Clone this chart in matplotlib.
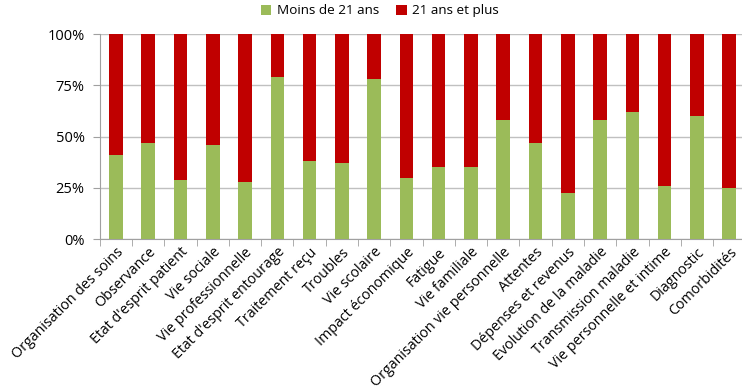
import matplotlib.pyplot as plt
import numpy as np

# categories and shares (in %)
categories = ["Organisation des soins", "Observance", "Etat d'esprit patient",
              "Vie sociale", "Vie professionnelle", "Etat d'esprit entourage",
              "Traitement reçu", "Troubles", "Vie scolaire", "Impact économique",
              "Fatigue", "Vie familiale", "Organisation vie personnelle",
              "Attentes", "Dépenses et revenus", "Evolution de la maladie",
              "Transmission maladie", "Vie personnelle et intime", "Diagnostic",
              "Comorbidités"]
moins_21 = [41, 47, 29, 46, 28, 79, 38, 37, 78, 30,
            35, 35, 58, 47, 22.5, 58, 62, 26, 60, 25]
plus_21 = [100 - v for v in moins_21]

plt.rcParams['font.family'] = ['Open Sans', 'DejaVu Sans']

fig = plt.figure(figsize=(7.42, 3.87), dpi=100)
ax = fig.add_axes([0.1345, 0.382, 0.870, 0.530])

x = np.arange(len(categories))
ax.bar(x, moins_21, width=0.42, color="#9bbb59", label="Moins de 21 ans", zorder=3)
ax.bar(x, plus_21, width=0.42, bottom=moins_21, color="#c00000",
       label="21 ans et plus", zorder=3)

ax.set_xlim(-0.5, len(categories) - 0.5)
ax.set_ylim(0, 100)
ax.set_yticks([0, 25, 50, 75, 100])
ax.set_yticklabels(["0%", "25%", "50%", "75%", "100%"], fontsize=10.5)
ax.yaxis.grid(True, color="#c0c0c0", linewidth=1, zorder=0)

# category labels, boundary tick marks like Excel
ax.set_xticks(x)
ax.set_xticklabels(categories, rotation=45, ha="right", rotation_mode="anchor",
                   fontsize=10.3)
ax.tick_params(axis="x", length=0, pad=4)
ax.set_xticks(np.arange(len(categories) + 1) - 0.5, minor=True)
ax.tick_params(axis="x", which="minor", length=5, color="#a0a0a0")
ax.tick_params(axis="y", length=5, color="#a0a0a0", pad=6)

for side in ["top", "right"]:
    ax.spines[side].set_visible(False)
ax.spines["left"].set_color("#a0a0a0")
ax.spines["bottom"].set_color("#a0a0a0")

fig.legend(loc="upper center", bbox_to_anchor=(0.512, 1.02), ncol=2, frameon=False,
           fontsize=9.7, handlelength=0.75, handleheight=0.75, handletextpad=0.4,
           columnspacing=1.3)

fig.savefig("out.png", dpi=100)
